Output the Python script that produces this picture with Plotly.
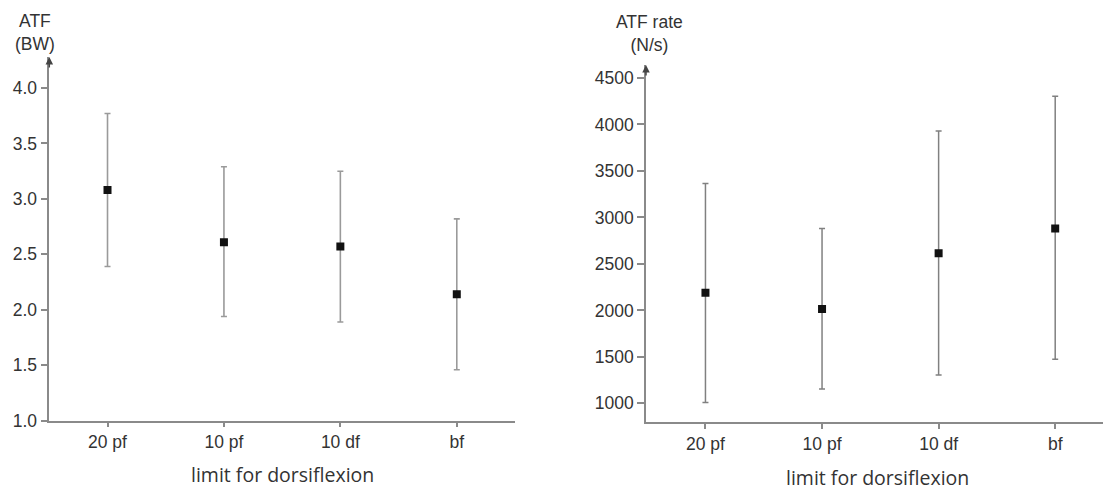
import plotly.graph_objects as go

categories = ["20 pf", "10 pf", "10 df", "bf"]

atf_mean = [3.08, 2.61, 2.57, 2.14]
atf_upper = [3.77, 3.29, 3.25, 2.82]
atf_lower = [2.39, 1.94, 1.89, 1.46]

rate_mean = [2190, 2015, 2615, 2880]
rate_upper = [3365, 2880, 3930, 4305]
rate_lower = [1010, 1155, 1305, 1475]

left_ticks = [1.0, 1.5, 2.0, 2.5, 3.0, 3.5, 4.0]
right_ticks = [1000, 1500, 2000, 2500, 3000, 3500, 4000, 4500]

W, H = 1103, 491
axis_col = "#8a8a8a"
text_col = "#333333"
tick_font = dict(family="Liberation Sans, Arial, sans-serif", size=17.5, color=text_col)
title_font = dict(family="Open Sans, sans-serif", size=19.5, color=text_col)

fig = go.Figure()

fig.add_trace(go.Scatter(
    x=categories, y=atf_mean, mode="markers", xaxis="x", yaxis="y",
    marker=dict(symbol="square", size=8, color="#111111"),
    error_y=dict(type="data", symmetric=False,
                 array=[u - m for u, m in zip(atf_upper, atf_mean)],
                 arrayminus=[m - l for m, l in zip(atf_mean, atf_lower)],
                 color="#9a9a9a", thickness=1.6, width=3),
    showlegend=False))

fig.add_trace(go.Scatter(
    x=categories, y=rate_mean, mode="markers", xaxis="x2", yaxis="y2",
    marker=dict(symbol="square", size=8, color="#111111"),
    error_y=dict(type="data", symmetric=False,
                 array=[u - m for u, m in zip(rate_upper, rate_mean)],
                 arrayminus=[m - l for m, l in zip(rate_mean, rate_lower)],
                 color="#808080", thickness=1.5, width=3),
    showlegend=False))

common_x = dict(type="category", showgrid=False, zeroline=False, showline=True,
                automargin=False,
                linecolor=axis_col, linewidth=1.5, ticks="outside", ticklen=5,
                tickcolor=axis_col, tickwidth=1.5, tickfont=tick_font)
common_y = dict(showgrid=False, zeroline=False, showline=True, automargin=False,
                linecolor=axis_col, linewidth=1.5, ticks="outside", ticklen=7,
                tickcolor=axis_col, tickwidth=1.5, tickfont=tick_font)

fig.update_layout(
    width=W, height=H,
    margin=dict(l=0, r=0, t=0, b=0, autoexpand=False),
    paper_bgcolor="white", plot_bgcolor="white",
    xaxis=dict(common_x, domain=[49.3 / W, 515 / W], range=[-0.5, 3.5], anchor="y"),
    yaxis=dict(common_y, domain=[1 - 420.7 / H, 1 - 57 / H], range=[1.0, 4.28],
               anchor="x", tickvals=left_ticks,
               ticktext=[f"{v:.1f}" for v in left_ticks]),
    xaxis2=dict(common_x, domain=[646 / W, 1.0], range=[-0.51, 3.41], anchor="y2"),
    yaxis2=dict(common_y, domain=[1 - 422.3 / H, 1 - 65 / H], range=[796, 4640],
                anchor="x2", tickvals=right_ticks,
                ticktext=[str(v) for v in right_ticks]),
)

# axis arrows
fig.add_annotation(x=-0.5, y=4.28, xref="x", yref="y", text="", showarrow=True,
                   axref="pixel", ayref="pixel", ax=0, ay=12, arrowhead=2,
                   arrowsize=1, arrowwidth=1.5, arrowcolor="#444444")
fig.add_annotation(x=-0.51, y=4640, xref="x2", yref="y2", text="", showarrow=True,
                   axref="pixel", ayref="pixel", ax=0, ay=12, arrowhead=2,
                   arrowsize=1, arrowwidth=1.5, arrowcolor="#444444")

# y-axis titles
fig.add_annotation(x=35 / W, y=1 - 33 / H, xref="paper", yref="paper",
                   text="ATF<br>(BW)", showarrow=False, align="center",
                   font=tick_font, xanchor="center", yanchor="middle")
fig.add_annotation(x=649 / W, y=1 - 34 / H, xref="paper", yref="paper",
                   text="ATF rate<br>(N/s)", showarrow=False, align="center",
                   font=tick_font, xanchor="center", yanchor="middle")

# x-axis titles
fig.add_annotation(x=282 / W, y=1 - 474 / H, xref="paper", yref="paper",
                   text="limit for dorsiflexion", showarrow=False,
                   font=title_font, xanchor="center", yanchor="middle")
fig.add_annotation(x=877 / W, y=1 - 477 / H, xref="paper", yref="paper",
                   text="limit for dorsiflexion", showarrow=False,
                   font=title_font, xanchor="center", yanchor="middle")

fig.write_html("out.html")
